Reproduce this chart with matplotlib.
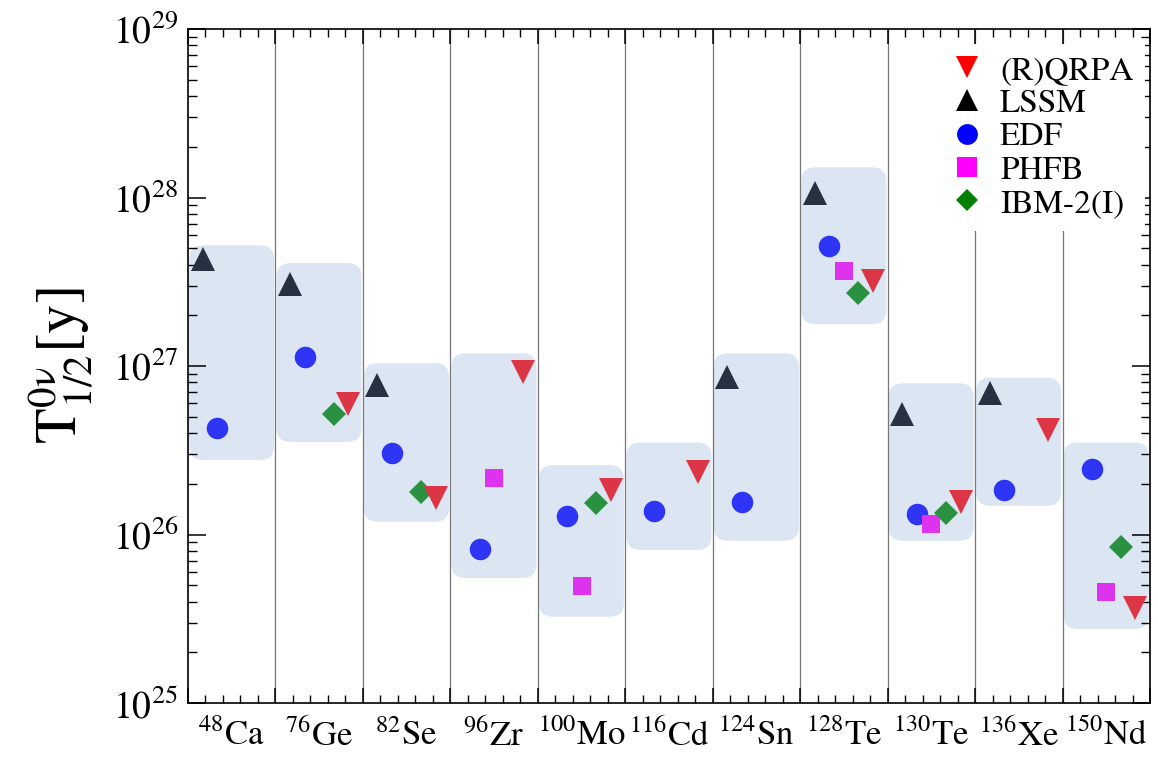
import numpy as np
import matplotlib
matplotlib.use("Agg")
import matplotlib.pyplot as plt
from matplotlib.patches import FancyBboxPatch
from matplotlib.transforms import IdentityTransform
from matplotlib.lines import Line2D
from matplotlib.ticker import LogLocator, MultipleLocator, NullFormatter

plt.rcParams['font.family'] = ['STIXGeneral', 'DejaVu Serif']
plt.rcParams['mathtext.fontset'] = 'stix'
plt.rcParams['mathtext.default'] = 'regular'

nan = np.nan
mass = ['48', '76', '82', '96', '100', '116', '124', '128', '130', '136', '150']
elem = ['Ca', 'Ge', 'Se', 'Zr', 'Mo', 'Cd', 'Sn', 'Te', 'Te', 'Xe', 'Nd']

qrpa = [nan, 5.95e26, 1.65e26, 9.2e26, 1.84e26, 2.34e26, nan, 3.19e27, 1.55e26, 4.17e26, 3.65e25]
lssm = [4.3e27, 3.07e27, 7.7e26, nan, nan, nan, 8.55e26, 1.07e28, 5.2e26, 6.96e26, nan]
edf = [4.3e26, 1.13e27, 3.05e26, 8.2e25, 1.29e26, 1.38e26, 1.55e26, 5.15e27, 1.32e26, 1.84e26, 2.44e26]
phfb = [nan, nan, nan, 2.16e26, 4.97e25, nan, nan, 3.68e27, 1.16e26, nan, 4.54e25]
ibm = [nan, 5.2e26, 1.79e26, nan, 1.53e26, nan, nan, 2.72e27, 1.35e26, nan, 8.47e25]

box_hi = [5.2e27, 4.08e27, 1.04e27, 1.19e27, 2.58e26, 3.52e26, 1.19e27, 1.51e28, 7.89e26, 8.53e26, 3.52e26]
box_lo = [2.77e26, 3.54e26, 1.19e26, 5.52e25, 3.25e25, 8.09e25, 9.18e25, 1.77e27, 9.18e25, 1.48e26, 2.75e25]

fig = plt.figure(figsize=(11.58, 7.70), dpi=100)
ax = fig.add_axes([188/1158, 67/770, 962/1158, 674/770])
n = len(elem)
ax.set_xlim(0, n)
ax.set_yscale('log')
ax.set_ylim(1e25, 1e29)

# separators
for i in range(1, n):
    ax.axvline(i, color='#777777', lw=0.9, zorder=1)

# rounded boxes (pixel space for correct rounding on log axis)
for i in range(n):
    (x0, y0), (x1, y1) = ax.transData.transform([(i + 0.012, box_lo[i]), (i + 0.985, box_hi[i])])
    p = FancyBboxPatch((x0, y0), x1 - x0, y1 - y0,
                       boxstyle="round,pad=0,rounding_size=14",
                       transform=IdentityTransform(), facecolor='#dce6f3',
                       edgecolor='none', zorder=0.5)
    ax.add_patch(p)

xs = np.arange(n)
series = [
    (lssm, 1/6, '^', '#283141', 17),
    (edf, 2/6, 'o', '#2e35f5', 15.5),
    (phfb, 3/6, 's', '#dd33ee', 13.5),
    (ibm, 4/6, 'D', '#2a9140', 12),
    (qrpa, 5/6, 'v', '#dc3545', 17),
]
for vals, off, mk, col, ms in series:
    ax.plot(xs + off, vals, linestyle='none', marker=mk, color=col,
            markersize=ms, markeredgewidth=0, zorder=3)

# ticks
ax.xaxis.set_major_locator(MultipleLocator(1))
ax.xaxis.set_minor_locator(MultipleLocator(0.2))
ax.xaxis.set_major_formatter(NullFormatter())
ax.yaxis.set_major_locator(LogLocator(base=10, numticks=10))
ax.yaxis.set_minor_locator(LogLocator(base=10, subs=np.arange(2, 10), numticks=20))
ax.yaxis.set_minor_formatter(NullFormatter())
ax.tick_params(axis='both', which='both', direction='in', top=True, right=True, color='black')
ax.tick_params(axis='y', which='major', length=13, width=1.1, labelsize=27, pad=7)
ax.tick_params(axis='y', which='minor', length=6.5, width=1.0)
ax.tick_params(axis='x', which='major', length=11, width=1.1)
ax.tick_params(axis='x', which='minor', length=6, width=1.0)
for s in ax.spines.values():
    s.set_linewidth(1.2)

for i in range(n):
    ax.text(i + 0.5, -0.025, r'$^{%s}$%s' % (mass[i], elem[i]), transform=ax.get_xaxis_transform(),
            ha='center', va='top', fontsize=25)

ax.set_ylabel(r'$\mathrm{T}^{0\mathrm{ν}}_{1/2}[\mathrm{y}]$', fontsize=42)
ax.yaxis.set_label_coords(-0.097, 0.5)

handles = [
    Line2D([], [], linestyle='none', marker='v', color='#ff0000', markersize=16, markeredgewidth=0),
    Line2D([], [], linestyle='none', marker='^', color='#000000', markersize=16, markeredgewidth=0),
    Line2D([], [], linestyle='none', marker='o', color='#0000ff', markersize=15, markeredgewidth=0),
    Line2D([], [], linestyle='none', marker='s', color='#ff00ff', markersize=14, markeredgewidth=0),
    Line2D([], [], linestyle='none', marker='D', color='#008000', markersize=11.5, markeredgewidth=0),
]
labels = ['(R)QRPA', 'LSSM', 'EDF', 'PHFB', 'IBM-2(I)']
leg = ax.legend(handles, labels, loc='upper right', bbox_to_anchor=(0.9948, 0.978),
                fontsize=24, frameon=True, fancybox=False, facecolor='white', edgecolor='none',
                framealpha=1, handlelength=1.0, handletextpad=0.5, labelspacing=0.09,
                borderpad=0.35, borderaxespad=0.0)
leg.set_zorder(5)

fig.savefig('out.png', dpi=100)
